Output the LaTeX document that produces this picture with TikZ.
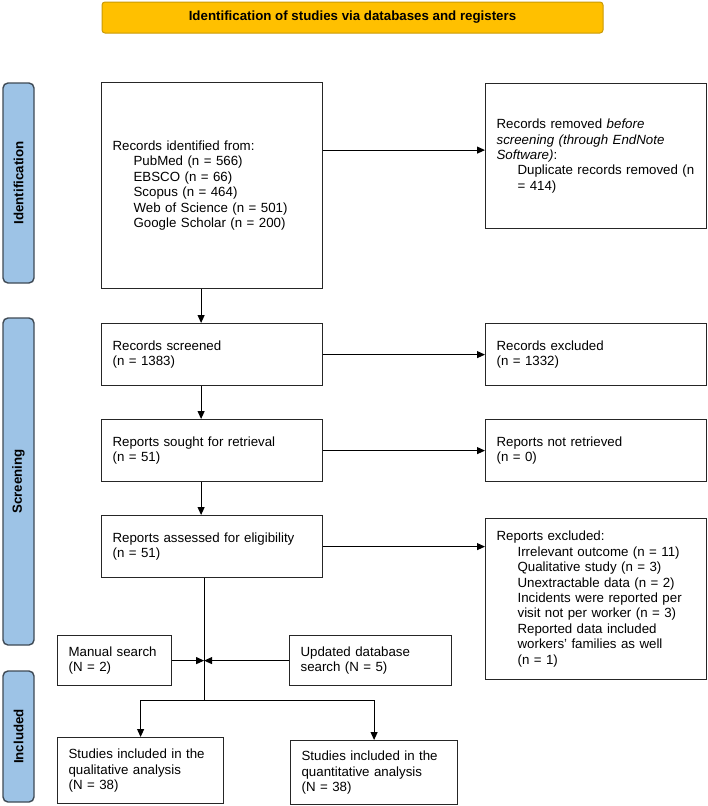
\documentclass[tikz,border=0pt]{standalone}
\usepackage{fontspec}
\setmainfont{Liberation Sans}
\usetikzlibrary{arrows.meta}
\definecolor{hdrfill}{HTML}{FFC000}
\definecolor{hdrdraw}{HTML}{C99A06}
\definecolor{sidefill}{HTML}{9DC3E6}
\definecolor{sidedraw}{HTML}{3F4A55}
\newcommand{\ind}{\hspace*{21pt}}
\newcommand{\fsz}{\fontsize{13.3}{15.4}\selectfont}
\begin{document}
\begin{tikzpicture}[x=1pt,y=-1pt,
  box/.style={draw=black!85, line width=1.2pt, fill=white, inner xsep=11pt, inner ysep=0pt,
    align=left, anchor=north west, font=\fsz},
  side/.style={draw=sidedraw, fill=sidefill, line width=1.4pt, rounded corners=5pt,
    rotate=90, font=\fsz\bfseries, inner sep=0pt, minimum height=31pt},
  hdr/.style={draw=hdrdraw, fill=hdrfill, line width=1pt, rounded corners=3pt,
    font=\fsz\bfseries, minimum width=501pt, minimum height=31pt, inner sep=0pt},
  arr/.style={-{Triangle[length=8pt,width=7pt]}, line width=1pt},
  conn/.style={line width=1pt}]
\useasboundingbox (0,0) rectangle (708,806);

% header
\node[hdr] (head) at (352.5,17.5) {Identification of studies via databases and registers};

% side bars
\node[side, minimum width=200pt] (sIdent) at (18.5,183) {Identification};
\node[side, minimum width=327pt] (sScreen) at (18.5,481.5) {Screening};
\node[side, minimum width=131pt] (sIncl) at (18.5,736.5) {Included};

% boxes
\node[box, text width=199pt, minimum height=206pt] (ident) at (101,82)
  {Records identified from:\\ \ind PubMed (n = 566)\\ \ind EBSCO (n = 66)\\ \ind Scopus (n = 464)\\ \ind Web of Science (n = 501)\\ \ind Google Scholar (n = 200)};
\node[box, text width=199pt, minimum height=145pt] (removed) at (485,83)
  {Records removed \textit{before}\\ \textit{screening (through EndNote}\\ \textit{Software)}:\\ \ind Duplicate records removed (n\\ \ind = 414)};
\node[box, text width=199pt, minimum height=62pt] (screened) at (101,323)
  {Records screened\\ (n = 1383)};
\node[box, text width=199pt, minimum height=62pt] (recexcl) at (485,323)
  {Records excluded\\ (n = 1332)};
\node[box, text width=199pt, minimum height=62pt] (sought) at (101,419)
  {Reports sought for retrieval\\ (n = 51)};
\node[box, text width=199pt, minimum height=62pt] (notret) at (485,419)
  {Reports not retrieved\\ (n = 0)};
\node[box, text width=199pt, minimum height=62pt] (assessed) at (101,515)
  {Reports assessed for eligibility\\ (n = 51)};
\node[box, text width=199pt, minimum height=161pt] (repexcl) at (485,518)
  {Reports excluded:\\ \ind Irrelevant outcome (n = 11)\\ \ind Qualitative study (n = 3)\\ \ind Unextractable data (n = 2)\\ \ind Incidents were reported per\\ \ind visit not per worker (n = 3)\\ \ind Reported data included\\ \ind workers’ families as well\\ \ind (n = 1)};
\node[box, text width=92pt, minimum height=50pt] (manual) at (57,635)
  {Manual search\\ (N = 2)};
\node[box, text width=140pt, minimum height=50pt] (updated) at (289,635)
  {Updated database\\ search (N = 5)};
\node[box, text width=144pt, minimum height=66pt] (qual) at (57,737)
  {Studies included in the\\ qualitative analysis\\ (N = 38)};
\node[box, text width=145pt, minimum height=64pt] (quant) at (290,740)
  {Studies included in the\\ quantitative analysis\\ (N = 38)};

% connectors
\coordinate (rin) at ([yshift=6pt]removed.west);
\draw[arr] (rin -| ident.east) -- (rin);
\draw[arr] ([xshift=-11pt]ident.south) -- ([xshift=-11pt]screened.north);
\draw[arr] (screened.east) -- (recexcl.west);
\draw[arr] ([xshift=-11pt]screened.south) -- ([xshift=-11pt]sought.north);
\draw[arr] (sought.east) -- (notret.west);
\draw[arr] ([xshift=-11pt]sought.south) -- ([xshift=-11pt]assessed.north);
\draw[arr] (assessed.east) -- (assessed.east -| repexcl.west);

\coordinate (v) at ([xshift=-8pt]assessed.south);
\coordinate (bl) at (0,700);
\coordinate (m) at (v |- manual.east);
\draw[conn] (v) -- (v |- bl);
\draw[arr] (manual.east) -- (m);
\draw[arr] (m -| updated.west) -- (m);
\draw[arr] (v |- bl) -| (qual.north);
\draw[arr] (v |- bl) -| (quant.north);
\end{tikzpicture}
\end{document}
